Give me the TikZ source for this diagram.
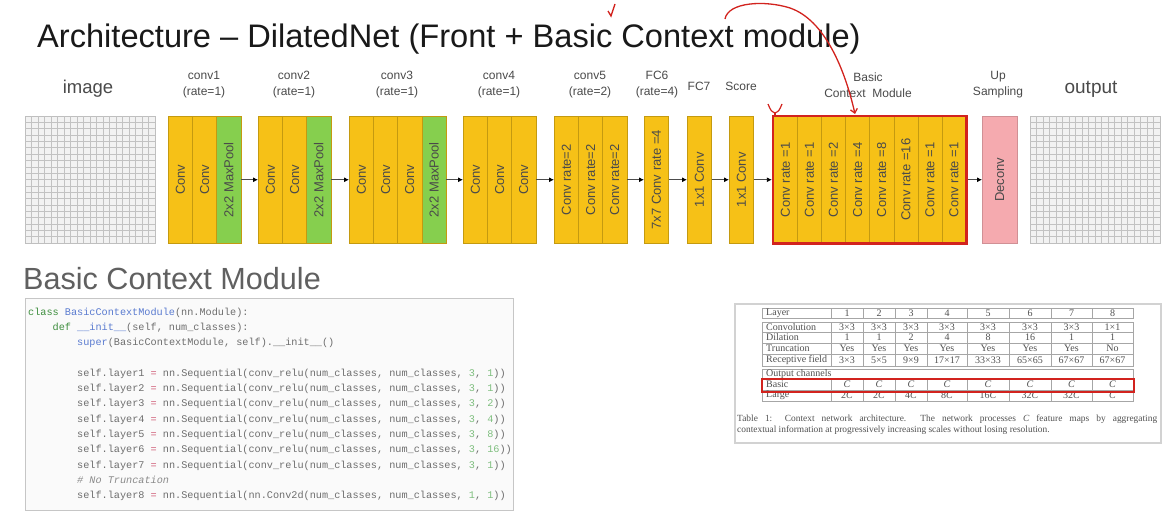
\documentclass[tikz,border=0pt]{standalone}
\usepackage{fontspec}
\setmainfont{Liberation Sans}
\newfontfamily\serifT{Liberation Serif}
\newfontfamily\monoT{Liberation Mono}
\usetikzlibrary{arrows.meta,fit}
\definecolor{convy}{HTML}{F6C117}
\definecolor{convb}{HTML}{C49A10}
\definecolor{poolg}{HTML}{86CF4E}
\definecolor{decp}{HTML}{F5AAAF}
\definecolor{redm}{HTML}{D2231E}
\definecolor{lbl}{HTML}{4A4A4A}
\definecolor{ckw}{HTML}{3E8E3E}
\definecolor{cfn}{HTML}{5A7BD0}
\definecolor{ctx}{HTML}{6E6E6E}
\definecolor{cnum}{HTML}{7FBF7F}
\definecolor{ceq}{HTML}{D0607A}
\definecolor{ccom}{HTML}{8A8A8A}
\definecolor{tabtxt}{HTML}{505050}
\begin{document}
\begin{tikzpicture}[x=1pt,y=-1pt,
  colbase/.style={draw=convb, line width=0.5pt, minimum width=24.2pt, minimum height=127pt, inner sep=0pt, anchor=north west, font=\fontsize{13}{15}\selectfont, text=lbl},
  cv/.style={colbase, fill=convy},
  pool/.style={colbase, fill=poolg},
  gridbox/.style={draw=gray!50, fill=gray!10, line width=0.8pt, minimum width=130pt, minimum height=127pt, inner sep=0pt, anchor=north west},
  gridline/.style={draw=gray!48, line width=0.6pt},
  lab/.style={align=center, font=\fontsize{12}{16}\selectfont, text=lbl},
  arr/.style={draw=black!70, line width=0.9pt, -{Latex[length=5pt,width=5pt,color=black]}},
  codeln/.style={anchor=base west, inner sep=0pt, font=\monoT\fontsize{10.2}{12}\selectfont, text=ctx},
  tline/.style={draw=gray!70, line width=0.6pt},
  ttxt/.style={inner sep=0pt, font=\serifT\fontsize{10}{11}\selectfont, text=tabtxt},
]
\useasboundingbox[fill=white] (0,0) rectangle (1175,514);

% title
\node[anchor=base west, inner sep=0pt, font=\fontsize{32.6}{36}\selectfont, text=black!90] (title) at (37,47) {Architecture -- DilatedNet (Front + Basic Context module)};

% image and output grids
\node[gridbox] (img) at (25,116) {};
\node[gridbox] (out) at (1030,116) {};
\foreach \k in {1,...,19} {
  \draw[gridline] ({25+\k*6.5},116) -- ({25+\k*6.5},243);
  \draw[gridline] (25,{116+\k*6.35}) -- (155,{116+\k*6.35});
  \draw[gridline] ({1030+\k*6.5},116) -- ({1030+\k*6.5},243);
  \draw[gridline] (1030,{116+\k*6.35}) -- (1160,{116+\k*6.35});
}
\node[lab, font=\fontsize{18.5}{20}\selectfont] (limg) at (88,89) {image};
\node[lab, font=\fontsize{19}{20}\selectfont] (lout) at (1091,89) {output};

% conv1
\node[cv] (c1a) at (168,116) {\rotatebox{90}{Conv}};
\node[cv] (c1b) at (192.2,116) {\rotatebox{90}{Conv}};
\node[pool] (c1c) at (216.4,116) {\rotatebox{90}{2x2 MaxPool}};
% conv2
\node[cv] (c2a) at (258,116) {\rotatebox{90}{Conv}};
\node[cv] (c2b) at (282.2,116) {\rotatebox{90}{Conv}};
\node[pool] (c2c) at (306.4,116) {\rotatebox{90}{2x2 MaxPool}};
% conv3
\node[cv] (c3a) at (349,116) {\rotatebox{90}{Conv}};
\node[cv] (c3b) at (373.2,116) {\rotatebox{90}{Conv}};
\node[cv] (c3c) at (397.4,116) {\rotatebox{90}{Conv}};
\node[pool] (c3d) at (421.6,116) {\rotatebox{90}{2x2 MaxPool}};
% conv4
\node[cv] (c4a) at (463,116) {\rotatebox{90}{Conv}};
\node[cv] (c4b) at (487.2,116) {\rotatebox{90}{Conv}};
\node[cv] (c4c) at (511.4,116) {\rotatebox{90}{Conv}};
% conv5
\node[cv] (c5a) at (554,116) {\rotatebox{90}{Conv rate=2}};
\node[cv] (c5b) at (578.2,116) {\rotatebox{90}{Conv rate=2}};
\node[cv] (c5c) at (602.4,116) {\rotatebox{90}{Conv rate=2}};
% FC6, FC7, Score
\node[cv] (fc6) at (644,116) {\rotatebox{90}{7x7 Conv rate =4}};
\node[cv] (fc7) at (687,116) {\rotatebox{90}{1x1 Conv}};
\node[cv] (sc) at (729,116) {\rotatebox{90}{1x1 Conv}};
% basic context module
\foreach \r [count=\i] in {1,1,2,4,8,16,1,1}
  \node[cv, minimum width=24.1pt] (b\i) at ({773+(\i-1)*24.1},116) {\rotatebox{90}{Conv rate =\r}};
\node[draw=redm, line width=2.4pt, fit=(b1)(b8), inner sep=0pt] (bcm) {};
% deconv
\node[colbase, fill=decp, draw=decp!85!black, minimum width=35pt] (dec) at (982,116) {\rotatebox{90}{Deconv}};

% labels
\node[lab] (l1) at (204,85) {conv1\\(rate=1)};
\node[lab] (l2) at (294,85) {conv2\\(rate=1)};
\node[lab] (l3) at (397,85) {conv3\\(rate=1)};
\node[lab] (l4) at (499,85) {conv4\\(rate=1)};
\node[lab] (l5) at (590,85) {conv5\\(rate=2)};
\node[lab] (l6) at (657,85) {FC6\\(rate=4)};
\node[lab] (l7) at (699,86) {FC7};
\node[lab] (l8) at (741,86) {Score};
\node[lab] (l9) at (868,85) {Basic\\Context\ \ Module};
\node[lab] (l10) at (998,85) {Up\\Sampling};

% arrows
\draw[arr] (c1c.east) -- (c2a.west);
\draw[arr] (c2c.east) -- (c3a.west);
\draw[arr] (c3d.east) -- (c4a.west);
\draw[arr] (c4c.east) -- (c5a.west);
\draw[arr] (c5c.east) -- (fc6.west);
\draw[arr] (fc6.east) -- (fc7.west);
\draw[arr] (fc7.east) -- (sc.west);
\draw[arr] (sc.east) -- (bcm.west);
\draw[arr] (bcm.east) -- (dec.west);

% red annotations
\coordinate (rc0) at (725,19);
\coordinate (rc1) at (855,114);
\draw[redm, line width=1.3pt, -{Straight Barb[length=4pt,width=7pt]}] (rc0) .. controls (728,2) and (765,0) .. (790,8) .. controls (825,20) and (845,70) .. (rc1);
\coordinate (ck0) at (608,11);
\draw[redm, line width=1.3pt] (ck0) -- (611,16) -- (615,4);
\coordinate (ym) at (775,113);
\draw[redm, line width=1.2pt] (768,104) .. controls (771,111) .. (ym) .. controls (779,111) .. (782,104);
\draw[redm, line width=1.2pt] (ym) -- (775,117);

% Basic Context Module heading
\node[anchor=base west, inner sep=0pt, font=\fontsize{30.6}{32}\selectfont, text=gray!75!black] (bcmhead) at (23,289) {Basic Context Module};

% code block
\node[draw=gray!45, fill=gray!4, line width=1pt, anchor=north west, minimum width=488pt, minimum height=212pt, inner sep=0pt] (codebox) at (25,298) {};
\node[codeln] (k1) at (28,315) {{\color{ckw}class} {\color{cfn}BasicContextModule}(nn.Module):};
\node[codeln] (k2) at (52.5,330.3) {{\color{ckw}def} {\color{cfn}\_\_init\_\_}(self, num\_classes):};
\node[codeln] (k3) at (77,345.6) {{\color{cfn}super}(BasicContextModule, self).\_\_init\_\_()};
\foreach \n/\d [count=\i] in {1/1,2/1,3/2,4/4,5/8,6/16,7/1}
  \node[codeln] (s\i) at (77,{361+\i*15.3}) {self.layer\n{} {\color{ceq}=} nn.Sequential(conv\_relu(num\_classes, num\_classes, {\color{cnum}3}, {\color{cnum}\d}))};
\node[codeln] (k11) at (77,483.5) {{\itshape\color{ccom}\# No Truncation}};
\node[codeln] (k12) at (77,498.8) {self.layer8 {\color{ceq}=} nn.Sequential(nn.Conv2d(num\_classes, num\_classes, {\color{cnum}1}, {\color{cnum}1}))};

% table panel
\node[draw=gray!35, line width=1.5pt, fill=white, anchor=north west, minimum width=426pt, minimum height=139pt, inner sep=0pt] (tpanel) at (734,303) {};
% table rules
\draw[tline] (762,308) rectangle (1133,318);
\draw[tline] (762,322) rectangle (1133,366);
\draw[tline] (762,332) -- (1133,332) (762,343) -- (1133,343) (762,354) -- (1133,354);
\draw[tline] (762,369) rectangle (1133,401);
\draw[tline] (762,379) -- (1133,379) (762,390) -- (1133,390);
\foreach \xx in {831,863,895,927,967,1009,1051,1092} {
  \draw[tline] (\xx,308) -- (\xx,318);
  \draw[tline] (\xx,322) -- (\xx,366);
  \draw[tline] (\xx,379) -- (\xx,401);
}
% row heads
\node[ttxt, anchor=west] (h1) at (766,313) {Layer};
\node[ttxt, anchor=west] (h2) at (766,327) {Convolution};
\node[ttxt, anchor=west] (h3) at (766,337.5) {Dilation};
\node[ttxt, anchor=west] (h4) at (766,348.5) {Truncation};
\node[ttxt, anchor=west] (h5) at (766,360) {Receptive field};
\node[ttxt, anchor=west] (h6) at (766,374) {Output channels};
\node[ttxt, anchor=west] (h7) at (766,384.5) {Basic};
\node[ttxt, anchor=west] (h8) at (766,395.5) {Large};
% cells
\foreach \cx/\la/\cv/\dl/\tr/\rf/\lg [count=\j] in {
  847/1/3×3/1/Yes/3×3/2,
  879/2/3×3/1/Yes/5×5/2,
  911/3/3×3/2/Yes/9×9/4,
  947/4/3×3/4/Yes/17×17/8,
  988/5/3×3/8/Yes/33×33/16,
  1030/6/3×3/16/Yes/65×65/32,
  1071.5/7/3×3/1/Yes/67×67/32,
  1112.5/8/1×1/1/No/67×67/} {
  \node[ttxt] (ta\j) at (\cx,313) {\la};
  \node[ttxt] (tb\j) at (\cx,327) {\cv};
  \node[ttxt] (tc\j) at (\cx,337.5) {\dl};
  \node[ttxt] (td\j) at (\cx,348.5) {\tr};
  \node[ttxt] (te\j) at (\cx,360) {\rf};
  \node[ttxt] (tf\j) at (\cx,384.5) {\itshape C};
  \node[ttxt] (tg\j) at (\cx,395.5) {\lg\itshape C};
}
\node[draw=redm, line width=1.6pt, anchor=north west, minimum width=372pt, minimum height=13pt, inner sep=0pt] (redrow) at (761,378) {};
% caption
\node[anchor=base west, inner sep=0pt, font=\serifT\fontsize{9.4}{11}\selectfont, text=tabtxt] (cap1) at (737,421.5) {\makebox[420pt][s]{Table 1: Context network architecture.\ \ The network processes {\itshape C} feature maps by aggregating}};
\node[anchor=base west, inner sep=0pt, font=\serifT\fontsize{9.4}{11}\selectfont, text=tabtxt] (cap2) at (737,432.5) {contextual information at progressively increasing scales without losing resolution.};
\end{tikzpicture}
\end{document}
